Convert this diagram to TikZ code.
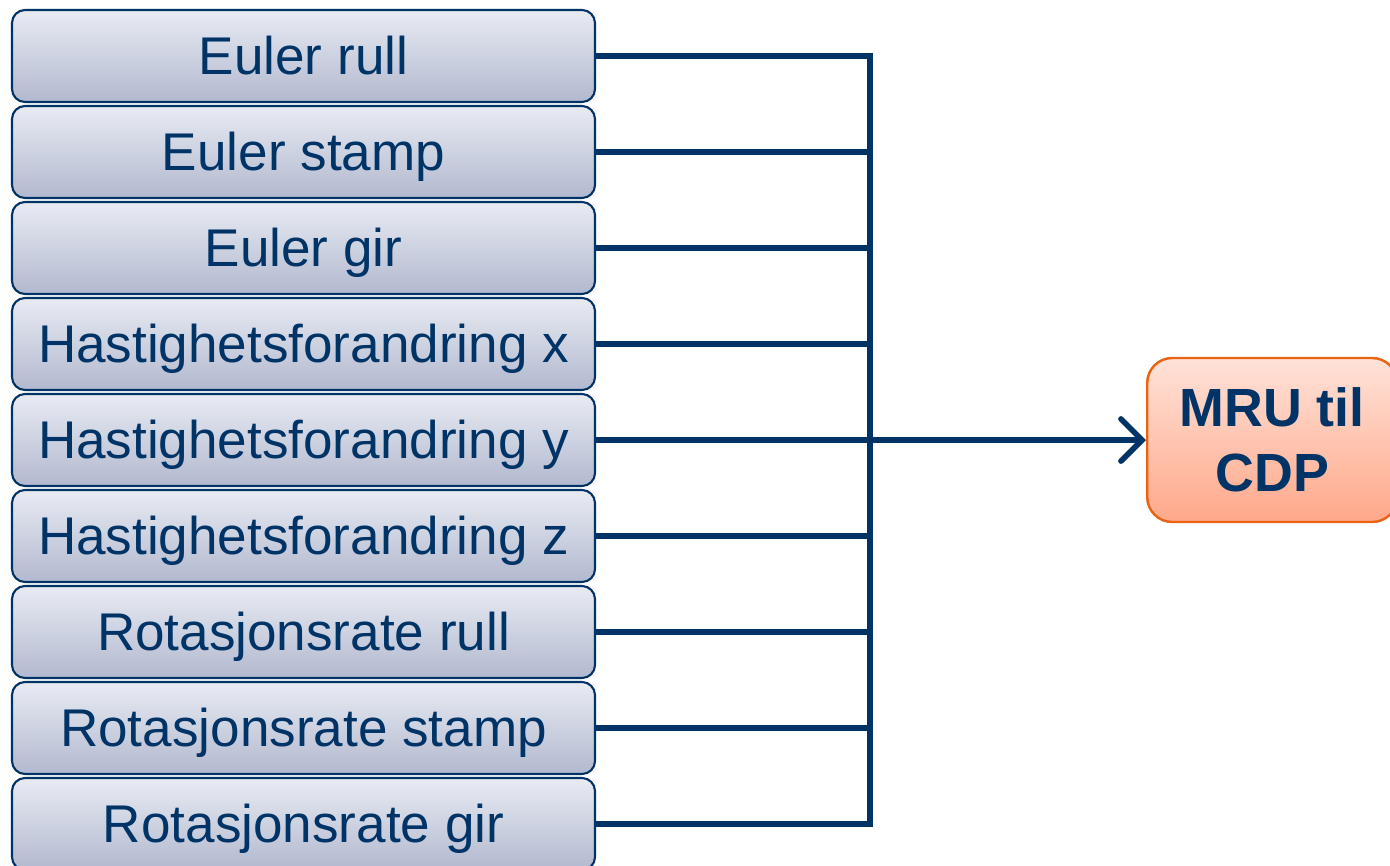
\documentclass[tikz,border=0pt]{standalone}
\usepackage{fontspec}
\setmainfont{Liberation Sans}
\usetikzlibrary{arrows.meta}
\definecolor{navy}{RGB}{0,51,102}
\definecolor{btop}{RGB}{232,235,243}
\definecolor{bbot}{RGB}{178,185,207}
\definecolor{otop}{RGB}{255,226,216}
\definecolor{obot}{RGB}{255,168,138}
\definecolor{oedge}{RGB}{232,100,20}
\tikzset{
  inbox/.style={draw=navy, line width=0.6pt, rounded corners=0.13cm,
    top color=btop, bottom color=bbot, minimum width=5.83cm, minimum height=0.92cm,
    inner sep=0pt, text height=0.45cm, text depth=0.08cm,
    text=navy, font=\fontsize{15.1}{18}\selectfont},
  outbox/.style={draw=oedge, line width=0.7pt, rounded corners=0.25cm,
    top color=otop, bottom color=obot, minimum width=2.5cm, minimum height=1.64cm,
    inner sep=0pt, text=navy, font=\bfseries\fontsize{15.3}{18.5}\selectfont, align=center},
  wire/.style={draw=navy, line width=1.6pt, line cap=rect},
}
\begin{document}
\begin{tikzpicture}
\useasboundingbox (0,0) rectangle (13.9,-8.65);
\clip (0,0) rectangle (13.9,-8.65);
\foreach \t [count=\i] in {Euler rull, Euler stamp, Euler gir, Hastighetsforandring x, Hastighetsforandring y, Hastighetsforandring z, Rotasjonsrate rull, Rotasjonsrate stamp, Rotasjonsrate gir}{
  \node[inbox] (b\i) at (3.035,{-0.56-0.96*(\i-1)}) {\t};
}
\node[outbox, anchor=west] (mru) at (11.46,-4.40) {MRU til\\CDP};
\coordinate (top) at (8.7,-0.56);
\coordinate (bot) at (8.7,-8.24);
\coordinate (mid) at (8.7,-4.40);
\foreach \i in {1,...,9}{
  \draw[wire, line cap=butt] (b\i.east) -- (b\i.east -| top);
}
\draw[wire] (top) -- (bot);
\draw[wire, line cap=butt, -{Straight Barb[length=6pt,width=12pt,line cap=round]}] (mid) -- (mru.west);
\end{tikzpicture}
\end{document}
